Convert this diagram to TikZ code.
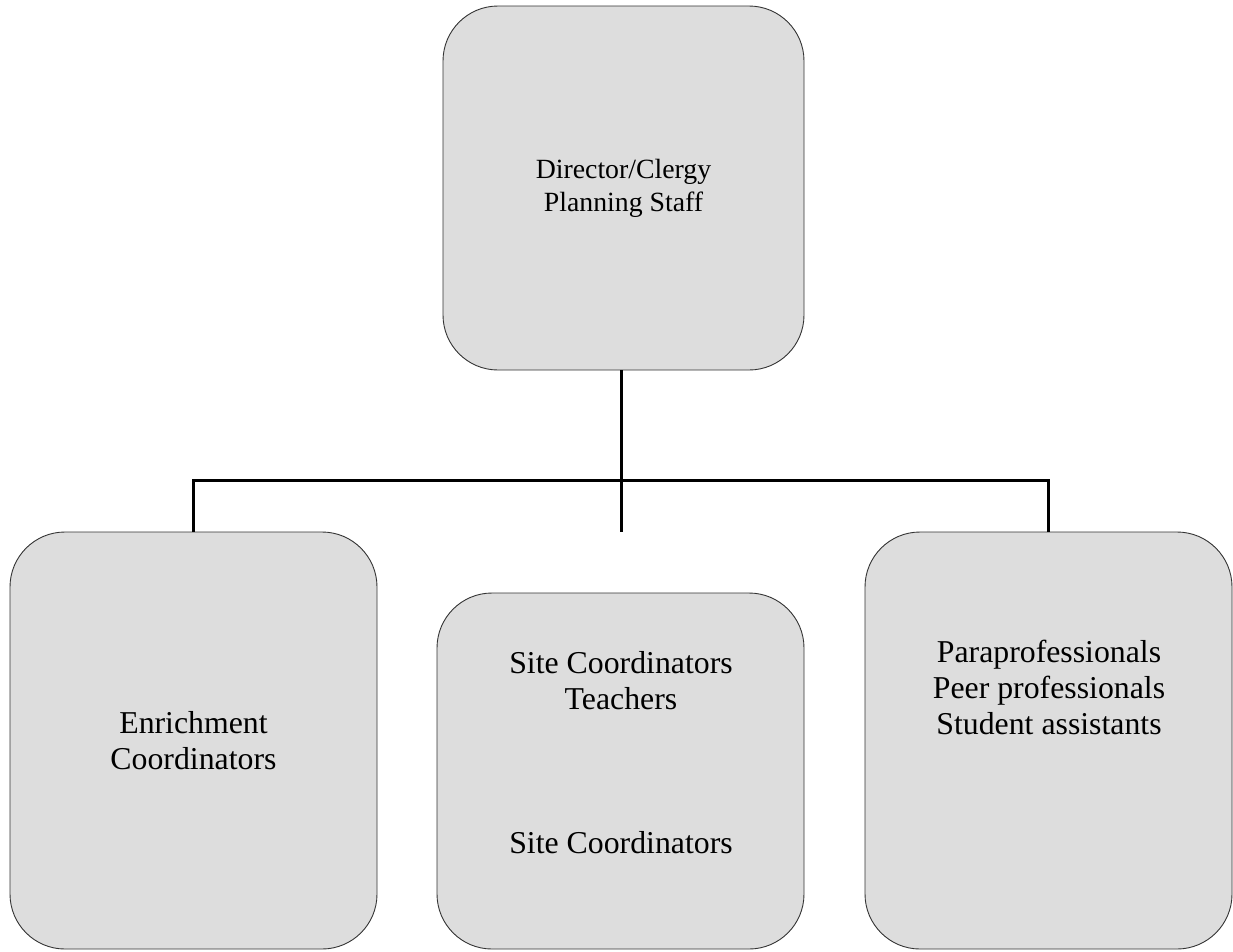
\documentclass[tikz,border=0pt]{standalone}
\usepackage{fontspec}
\setmainfont{Liberation Serif}
\usetikzlibrary{positioning}
\definecolor{boxgray}{RGB}{221,221,221}
\tikzset{
  staffbox/.style={draw=black!80,line width=0.9pt,fill=boxgray,rounded corners=55pt,inner sep=0pt},
  link/.style={line width=3pt,line cap=butt},
  bigtext/.style={align=center,font=\fontsize{31.8}{36}\selectfont},
  toptext/.style={align=center,font=\fontsize{27.8}{33}\selectfont}
}
\begin{document}
\begin{tikzpicture}[x=1pt,y=-1pt,line join=miter]
		\useasboundingbox (0,0) rectangle (1233,951);
		% boxes
		\node[staffbox,minimum width=361pt,minimum height=364pt] (head) at (623.5,188) {};
		\node[staffbox,minimum width=367pt,minimum height=417pt] (enrich) at (193.5,740.5) {};
		\node[staffbox,minimum width=367pt,minimum height=356pt] (site) at (620.5,771) {};
		\node[staffbox,minimum width=367pt,minimum height=417pt] (para) at (1048.5,740.5) {};
		% connectors
		\coordinate (drop) at (621,532);
		\draw[link] (head.south -| drop) -- (drop);
		\draw[link] (enrich.north) -- ++(0,-51) -| (para.north);
		% texts
		\node[toptext] (headtxt) at (head.center) {Director/Clergy\\Planning Staff};
		\node[bigtext] (enrichtxt) at (enrich.center) {Enrichment\\Coordinators};
		\node[bigtext] (sitetxt) at (621,681) {Site Coordinators\\Teachers};
		\node[bigtext] (sitetxtb) at (621,843) {Site Coordinators};
		\node[bigtext] (paratxt) at (1049,687) {Paraprofessionals\\Peer professionals\\Student assistants};
\end{tikzpicture}
\end{document}
